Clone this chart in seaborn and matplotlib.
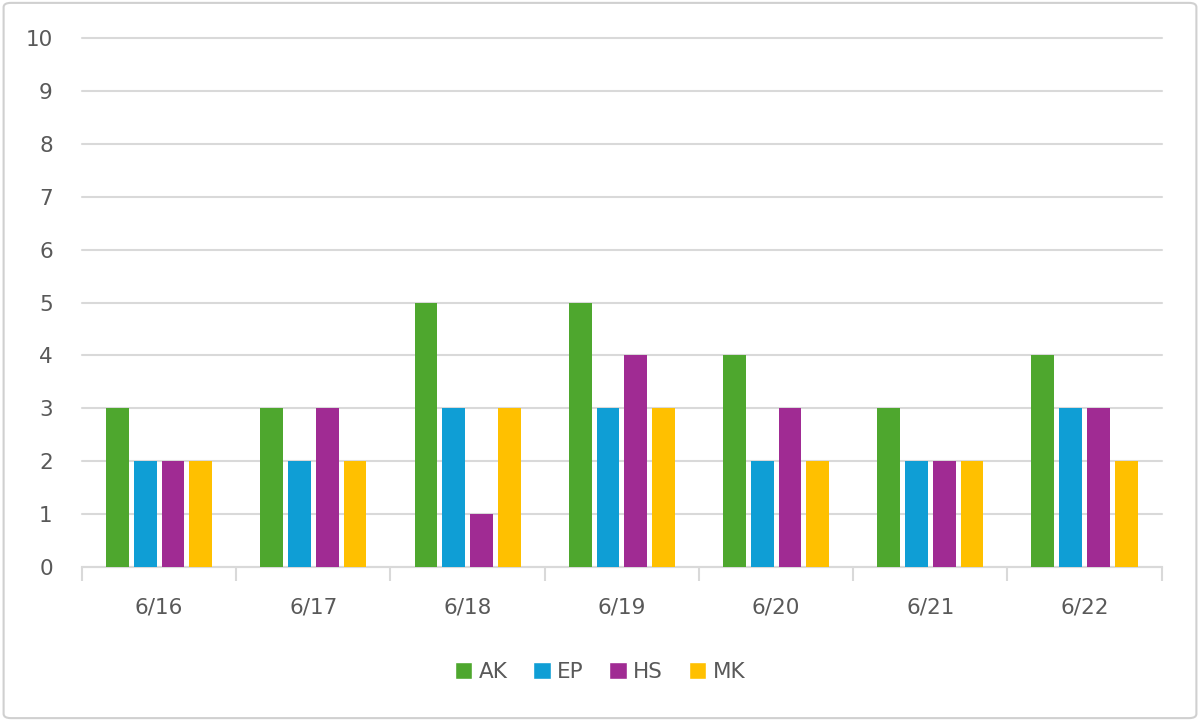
import pandas as pd
import seaborn as sns
import matplotlib.pyplot as plt
from matplotlib.patches import FancyBboxPatch, Patch

# Chart data
dates = ["6/16", "6/17", "6/18", "6/19", "6/20", "6/21", "6/22"]
ak = [3, 3, 5, 5, 4, 3, 4]
ep = [2, 2, 3, 3, 2, 2, 3]
hs = [2, 3, 1, 4, 3, 2, 3]
mk = [2, 2, 3, 3, 2, 2, 2]
people = ["AK", "EP", "HS", "MK"]
colors = ["#4EA72E", "#0F9ED5", "#A02B93", "#FFC000"]

df = pd.DataFrame({"Date": dates, "AK": ak, "EP": ep, "HS": hs, "MK": mk})
long = df.melt(id_vars="Date", var_name="Person", value_name="Count")

sns.set_style("white")
plt.rcParams["font.family"] = ["DejaVu Sans"]
text_color = "#595959"
grid_color = "#D9D9D9"

fig = plt.figure(figsize=(12, 7.21), dpi=100)
ax = fig.add_axes([0.0683, 0.2136, 0.8997, 0.7336])

sns.barplot(data=long, x="Date", y="Count", hue="Person", hue_order=people,
            palette=colors, width=0.72, gap=0.18, saturation=1, ax=ax,
            legend=False, zorder=3, linewidth=0)

ax.set_ylim(0, 10)
ax.set_yticks(range(0, 11))
ax.set_xlim(-0.5, len(dates) - 0.5)
ax.yaxis.grid(True, color=grid_color, linewidth=1.5, zorder=0)
for gl in ax.get_ygridlines():
    gl.set_clip_on(False)
ax.set_axisbelow(True)
for s in ["top", "right", "left"]:
    ax.spines[s].set_visible(False)
ax.spines["bottom"].set_color(grid_color)
ax.spines["bottom"].set_linewidth(1.5)
ax.set_xlabel("")
ax.set_ylabel("")

ax.tick_params(axis="y", length=0, labelsize=15.5, labelcolor=text_color, pad=21)
ax.tick_params(axis="x", length=0, labelsize=15.5, labelcolor=text_color, pad=22)
# category separator ticks
ax.set_xticks([i - 0.5 for i in range(len(dates) + 1)], minor=True)
ax.tick_params(axis="x", which="minor", bottom=True, length=10, width=1.5,
               color=grid_color)

handles = [Patch(facecolor=c, label=p) for p, c in zip(people, colors)]
leg = fig.legend(handles=handles, loc="center", bbox_to_anchor=(0.5, 0.068),
                 ncol=4, frameon=False, fontsize=15.5, handlelength=0.8,
                 handleheight=0.8, handletextpad=0.3, columnspacing=1.2)
for t in leg.get_texts():
    t.set_color(text_color)

border = FancyBboxPatch((0.003, 0.004), 0.994, 0.992, transform=fig.transFigure,
                        boxstyle="round,pad=0,rounding_size=0.006",
                        facecolor="none", edgecolor="#D0D0D0", linewidth=1.5)
fig.patches.append(border)

fig.savefig("out.png", dpi=100)
